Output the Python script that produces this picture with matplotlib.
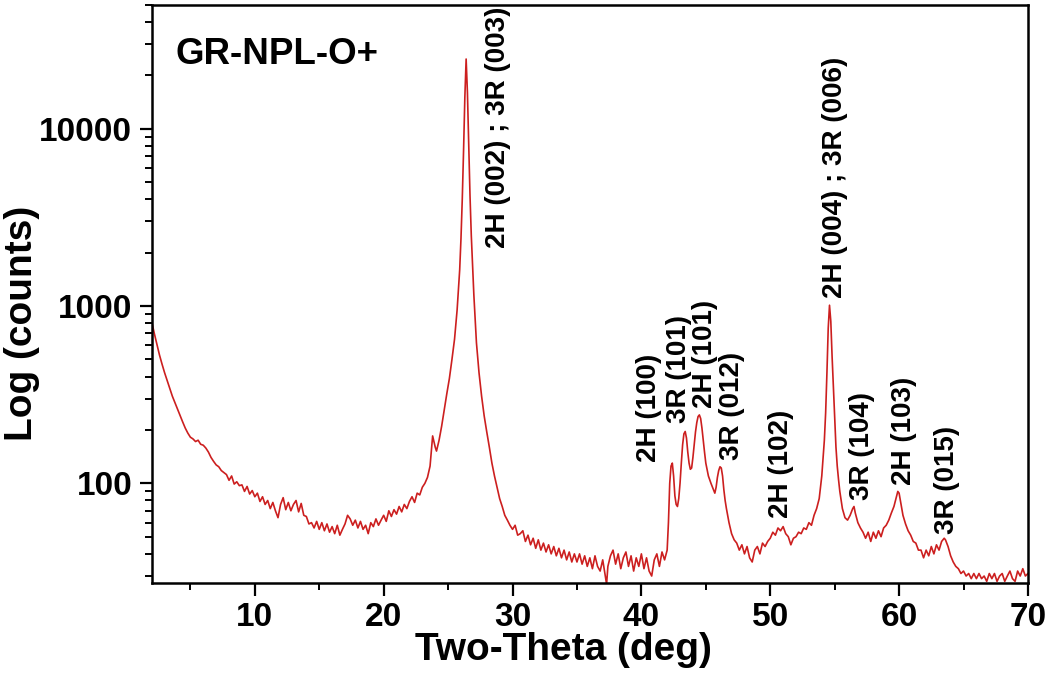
import matplotlib
matplotlib.use("Agg")
import matplotlib.pyplot as plt

# ---- data ----
two_theta = [
    2.0, 2.2, 2.4, 2.6, 2.8, 3.0, 3.2, 3.4, 3.6, 3.8, 4.0, 4.2, 4.4, 4.6, 4.8,
    5.0, 5.2, 5.4, 5.6, 5.8, 6.0, 6.2, 6.4, 6.6, 6.8, 7.0, 7.2, 7.4, 7.6, 7.8,
    8.0, 8.2, 8.4, 8.6, 8.8, 9.0, 9.2, 9.4, 9.6, 9.8, 10.0, 10.2, 10.4, 10.6, 10.8,
    11.0, 11.2, 11.4, 11.6, 11.8, 12.0, 12.2, 12.4, 12.6, 12.8, 13.0, 13.2, 13.4, 13.6, 13.8,
    14.0, 14.2, 14.4, 14.6, 14.8, 15.0, 15.2, 15.4, 15.6, 15.8, 16.0, 16.2, 16.4, 16.6, 16.8,
    17.0, 17.2, 17.4, 17.6, 17.8, 18.0, 18.2, 18.4, 18.6, 18.8, 19.0, 19.2, 19.4, 19.6, 19.8,
    20.0, 20.2, 20.4, 20.6, 20.8, 21.0, 21.2, 21.4, 21.6, 21.8, 22.0, 22.2, 22.4, 22.6, 22.8,
    23.0, 23.2, 23.4, 23.6, 23.8, 24.0, 24.1, 24.3, 24.5, 24.7, 24.9, 25.1, 25.3, 25.5, 25.7,
    25.9, 26.0, 26.1, 26.2, 26.3, 26.4, 26.5, 26.6, 26.7, 26.8, 26.9, 27.0, 27.2, 27.4, 27.6,
    27.8, 28.0, 28.2, 28.4, 28.6, 28.8, 29.0, 29.2, 29.4, 29.6, 29.8, 30.0, 30.2, 30.4, 30.6,
    30.8, 31.0, 31.2, 31.4, 31.6, 31.8, 32.0, 32.2, 32.4, 32.6, 32.8, 33.0, 33.2, 33.4, 33.6,
    33.8, 34.0, 34.2, 34.4, 34.6, 34.8, 35.0, 35.2, 35.4, 35.6, 35.8, 36.0, 36.2, 36.4, 36.6,
    36.8, 37.0, 37.2, 37.3, 37.4, 37.6, 37.8, 38.0, 38.2, 38.4, 38.6, 38.8, 39.0, 39.2, 39.4,
    39.6, 39.8, 40.0, 40.2, 40.4, 40.6, 40.8, 41.0, 41.2, 41.4, 41.6, 41.8, 42.0, 42.1, 42.2,
    42.3, 42.4, 42.5, 42.6, 42.7, 42.8, 42.9, 43.0, 43.1, 43.2, 43.3, 43.4, 43.5, 43.6, 43.7,
    43.8, 43.9, 44.0, 44.1, 44.2, 44.3, 44.4, 44.5, 44.6, 44.7, 44.8, 44.9, 45.0, 45.2, 45.4,
    45.6, 45.7, 45.8, 45.9, 46.0, 46.1, 46.2, 46.3, 46.4, 46.5, 46.6, 46.8, 47.0, 47.2, 47.4,
    47.6, 47.8, 48.0, 48.2, 48.4, 48.6, 48.8, 49.0, 49.2, 49.4, 49.6, 49.8, 50.0, 50.2, 50.4,
    50.6, 50.8, 51.0, 51.2, 51.4, 51.6, 51.8, 52.0, 52.2, 52.4, 52.6, 52.8, 53.0, 53.2, 53.4,
    53.6, 53.8, 54.0, 54.2, 54.3, 54.4, 54.5, 54.6, 54.7, 54.8, 54.9, 55.0, 55.1, 55.2, 55.3,
    55.4, 55.6, 55.8, 56.0, 56.2, 56.4, 56.5, 56.6, 56.8, 57.0, 57.2, 57.4, 57.6, 57.8, 58.0,
    58.2, 58.4, 58.6, 58.8, 59.0, 59.2, 59.4, 59.6, 59.8, 59.9, 60.0, 60.1, 60.3, 60.5, 60.7,
    60.9, 61.1, 61.3, 61.5, 61.7, 61.9, 62.1, 62.3, 62.5, 62.7, 62.9, 63.1, 63.3, 63.5, 63.6,
    63.8, 64.0, 64.2, 64.4, 64.6, 64.8, 65.0, 65.2, 65.4, 65.6, 65.8, 66.0, 66.2, 66.4, 66.6,
    66.8, 67.0, 67.2, 67.4, 67.6, 67.8, 68.0, 68.2, 68.4, 68.6, 68.8, 69.0, 69.2, 69.4, 69.6,
    69.8, 70.0,
]
counts = [
    815, 700, 610, 530, 470, 420, 380, 345, 310, 285, 262, 240, 222, 205, 192,
    182, 178, 172, 175, 166, 164, 158, 150, 140, 133, 127, 124, 118, 115, 112,
    104, 110, 99, 102, 97, 98, 90, 96, 87, 91, 84, 88, 79, 84, 76,
    80, 72, 78, 70, 64, 76, 83, 71, 78, 70, 76, 80, 69, 77, 66,
    65, 59, 60, 56, 61, 55, 60, 54, 59, 53, 57, 52, 58, 51, 55,
    59, 66, 63, 58, 62, 56, 61, 55, 58, 52, 60, 57, 63, 58, 62,
    66, 61, 70, 65, 71, 67, 74, 69, 76, 72, 79, 84, 78, 88, 86,
    95, 100, 108, 125, 185, 160, 152, 175, 210, 260, 320, 390, 500, 650, 950,
    1600, 2400, 4000, 7500, 15000, 24700, 16000, 8000, 4200, 2500, 1700, 1150, 620, 420, 310,
    240, 195, 160, 130, 110, 95, 82, 74, 66, 62, 58, 55, 58, 51, 52,
    54, 47, 51, 45, 49, 43, 48, 42, 46, 41, 45, 40, 44, 39, 43,
    38, 42, 37, 41, 36, 40, 36, 40, 35, 39, 34, 38, 33, 39, 34,
    32, 37, 30, 27, 34, 39, 42, 35, 40, 33, 38, 41, 34, 39, 32,
    38, 34, 40, 33, 38, 32, 30, 37, 40, 34, 41, 37, 42, 60, 100,
    125, 130, 110, 85, 76, 74, 82, 100, 130, 165, 190, 196, 180, 150, 130,
    120, 122, 140, 165, 195, 220, 238, 243, 232, 205, 175, 150, 130, 110, 100,
    92, 88, 95, 108, 118, 124, 122, 110, 92, 80, 72, 60, 52, 48, 46,
    42, 45, 40, 44, 38, 36, 42, 44, 40, 46, 44, 47, 49, 53, 51,
    56, 54, 57, 52, 50, 45, 49, 50, 53, 52, 56, 55, 60, 58, 66,
    72, 82, 110, 175, 250, 420, 750, 1010, 820, 520, 350, 230, 160, 125, 105,
    90, 72, 64, 62, 66, 72, 74, 68, 60, 56, 53, 49, 53, 47, 53,
    49, 54, 50, 56, 58, 62, 68, 74, 84, 90, 88, 80, 66, 59, 54,
    51, 47, 46, 42, 42, 38, 42, 39, 44, 40, 45, 42, 47, 49, 48,
    44, 39, 36, 34, 33, 31, 32, 30, 31, 29, 31, 29, 31, 29, 30,
    28, 31, 29, 31, 28, 30, 31, 28, 30, 32, 29, 28, 32, 30, 33,
    30, 31,
]

peak_labels = ["2H (002) ; 3R (003)", "2H (100)", "3R (101)", "2H (101)", "3R (012)",
               "2H (102)", "2H (004) ; 3R (006)", "3R (104)", "2H (103)", "3R (015)"]
label_x = [28.87, 40.6, 42.92, 44.94, 47.06, 50.8, 55.0, 57.15, 60.4, 63.75]
label_y = [2128, 132, 218, 265, 135, 63.5, 1114, 80.5, 98, 52]

plt.rcParams['font.family'] = ['Liberation Sans', 'DejaVu Sans']
plt.rcParams['font.weight'] = 'bold'

fig = plt.figure(figsize=(10.5, 6.81), dpi=100)
ax = fig.add_axes([0.1445, 0.1443, 0.8345, 0.8488])

ax.plot(two_theta, counts, color='#cc1f1f', linewidth=1.2)
ax.set_yscale('log')
ax.set_xlim(2, 70)
ax.set_ylim(27.5, 50000)

ax.set_xticks([10, 20, 30, 40, 50, 60, 70])
ax.set_xticks([5, 15, 25, 35, 45, 55, 65], minor=True)
ax.set_yticks([100, 1000, 10000])
ax.set_yticklabels(['100', '1000', '10000'])

for s in ax.spines.values():
    s.set_linewidth(1.8)
ax.tick_params(which='major', length=9, width=1.6, labelsize=24, pad=5)
ax.tick_params(which='minor', length=5, width=1.4)

ax.set_xlabel('Two-Theta (deg)', fontsize=28, fontweight='bold')
ax.set_ylabel('Log (counts)', fontsize=28, fontweight='bold')
ax.xaxis.set_label_coords(0.47, -0.085)
ax.yaxis.set_label_coords(-0.128, 0.449)

for lab, lx, ly in zip(peak_labels, label_x, label_y):
    ax.text(lx, ly, lab, rotation=90, ha='center', va='bottom',
            fontsize=20, fontweight='bold')

ax.text(0.0277, 0.8974, 'GR-NPL-O+', transform=ax.transAxes,
        fontsize=26.5, fontweight='bold', va='baseline', ha='left')

fig.savefig('out.png', dpi=100)
